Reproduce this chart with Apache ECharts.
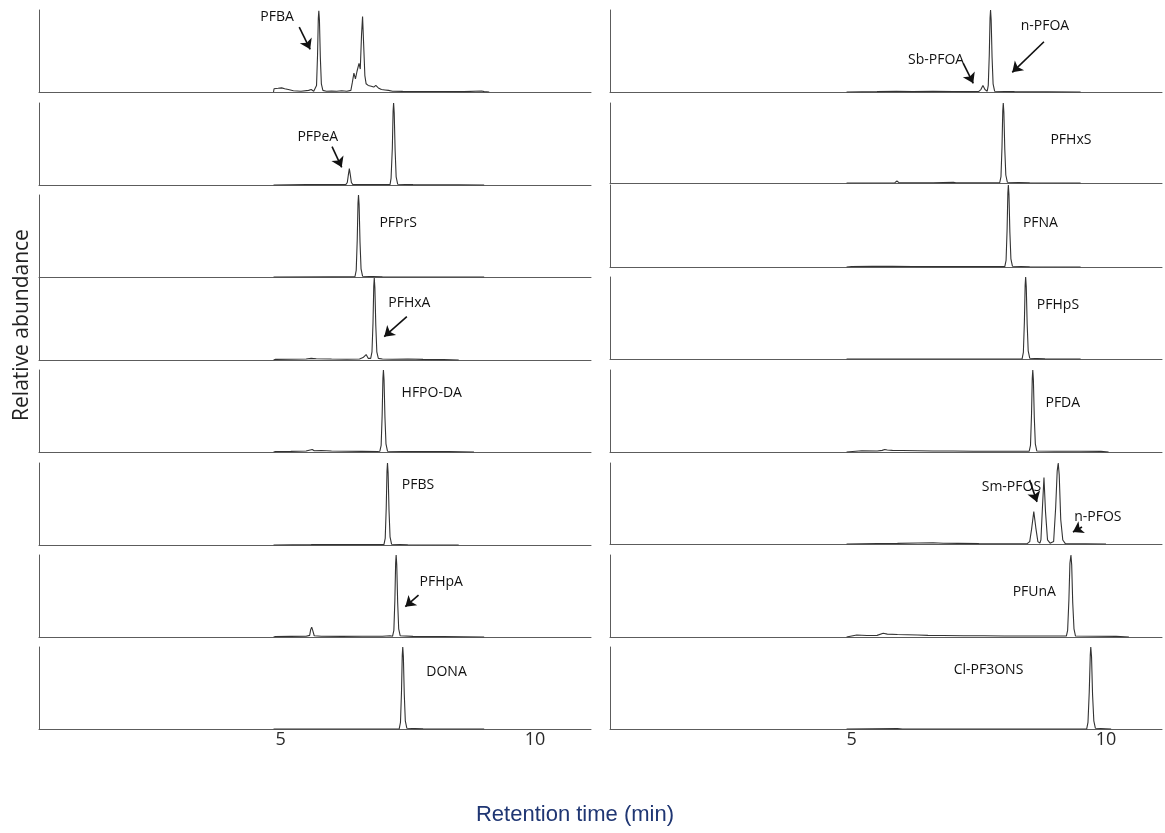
<!DOCTYPE html>
<html>
<head>
<meta charset="utf-8">
<title>PFAS chromatograms</title>
<script src="https://cdn.jsdelivr.net/npm/echarts@6/dist/echarts.min.js"></script>
<style>
  html, body { margin: 0; padding: 0; background: #fff; }
  #main { width: 1165px; height: 833px; }
</style>
</head>
<body>
<div id="main"></div>
<script>
// retention time (min) / relative abundance
var pfba = [[4.86,0],[4.87,0.04],[4.95,0.045],[5.02,0.05],[5.08,0.04],[5.15,0.03],[5.25,0.015],[5.4,0.01],[5.55,0.02],[5.6,0.03],[5.65,0.01],[5.68,0.005],
  [5.705,0.08],[5.725,0.45],[5.74,0.9],[5.75,0.99],[5.762,0.88],[5.78,0.42],[5.8,0.1],[5.83,0.02],
  [5.9,0.01],[6.0,0.012],[6.1,0.01],[6.2,0.015],[6.3,0.01],[6.38,0.02],
  [6.41,0.12],[6.44,0.23],[6.47,0.16],[6.5,0.25],[6.54,0.35],[6.565,0.28],[6.59,0.7],[6.61,0.92],[6.63,0.6],[6.655,0.2],
  [6.68,0.1],[6.72,0.08],[6.78,0.07],[6.83,0.06],[6.87,0.08],[6.92,0.05],[6.98,0.03],[7.05,0.025],[7.12,0.02],[7.2,0.01],
  [7.4,0.008],[7.8,0.006],[8.2,0.006],[8.6,0.005],[8.95,0.012],[9.0,0.005],[9.1,0]];
var pfpea = [[4.86,0],[5.5,0.004],[6.0,0.006],[6.28,0.005],[6.31,0.03],[6.33,0.12],[6.35,0.2],[6.37,0.12],[6.39,0.03],[6.42,0.005],
  [6.8,0.005],[7.15,0.004],[7.17,0.08],[7.195,0.45],[7.21,0.9],[7.22,1],[7.232,0.88],[7.25,0.42],[7.27,0.1],[7.3,0.01],[7.6,0.004],[8.5,0.003],[9.0,0]];
var pfprs = [[4.86,0],[6.0,0.002],[6.46,0.003],[6.485,0.08],[6.505,0.45],[6.52,0.9],[6.53,1],[6.542,0.88],[6.56,0.42],[6.58,0.1],[6.61,0.01],[7.0,0.002],[9.0,0]];
var pfhxa = [[4.86,0],[4.9,0.008],[5.2,0.01],[5.5,0.012],[5.6,0.02],[5.7,0.015],[6.0,0.012],[6.3,0.01],[6.55,0.012],[6.62,0.03],[6.68,0.066],[6.72,0.02],
  [6.77,0.02],[6.795,0.1],[6.815,0.45],[6.83,0.9],[6.84,1],[6.852,0.88],[6.87,0.42],[6.89,0.1],[6.92,0.02],
  [7.0,0.012],[7.2,0.01],[7.5,0.012],[7.8,0.008],[8.2,0.005],[8.5,0]];
var hfpoda = [[4.86,0],[4.9,0.006],[5.2,0.008],[5.5,0.012],[5.62,0.03],[5.66,0.015],[5.8,0.018],[6.0,0.012],[6.3,0.01],[6.6,0.008],[6.9,0.006],
  [6.95,0.01],[6.975,0.08],[6.995,0.45],[7.01,0.9],[7.02,1],[7.032,0.88],[7.05,0.42],[7.07,0.1],[7.1,0.01],
  [7.4,0.006],[7.8,0.005],[8.3,0.004],[8.8,0]];
var pfbs = [[4.86,0],[5.6,0.004],[5.8,0.006],[6.3,0.004],[7.03,0.004],[7.055,0.08],[7.075,0.45],[7.09,0.9],[7.1,1],[7.112,0.88],[7.13,0.42],[7.15,0.1],[7.18,0.01],[7.5,0.003],[8.5,0]];
var pfhpa = [[4.86,0],[4.9,0.006],[5.2,0.008],[5.5,0.01],[5.57,0.02],[5.59,0.09],[5.61,0.12],[5.63,0.08],[5.66,0.015],[5.8,0.01],[6.2,0.008],[6.6,0.01],[7.0,0.01],[7.15,0.015],
  [7.2,0.01],[7.225,0.08],[7.245,0.45],[7.26,0.9],[7.27,1],[7.282,0.88],[7.3,0.42],[7.32,0.1],[7.35,0.015],[7.6,0.008],[8.2,0.006],[9.0,0]];
var dona = [[4.86,0],[7.33,0.002],[7.355,0.08],[7.375,0.45],[7.39,0.9],[7.4,1],[7.412,0.88],[7.43,0.42],[7.45,0.1],[7.48,0.01],[7.8,0.002],[9.0,0]];

var pfoa = [[4.9,0],[5.5,0.004],[5.88,0.01],[6.2,0.005],[6.6,0.008],[7.0,0.006],[7.3,0.005],[7.5,0.008],[7.54,0.03],[7.58,0.08],[7.62,0.03],
  [7.665,0.01],[7.685,0.08],[7.705,0.45],[7.72,0.9],[7.73,1],[7.742,0.88],[7.76,0.42],[7.78,0.1],[7.81,0.01],[8.2,0.004],[9.5,0]];
var pfhxs = [[4.9,0],[5.85,0.004],[5.89,0.025],[5.93,0.004],[6.6,0.004],[7.0,0.008],[7.05,0.003],
  [7.91,0.003],[7.935,0.08],[7.955,0.45],[7.97,0.9],[7.98,1],[7.992,0.88],[8.01,0.42],[8.03,0.1],[8.06,0.01],[8.5,0.003],[9.5,0]];
var pfna = [[4.9,0],[5.0,0.006],[5.4,0.01],[5.8,0.008],[6.2,0.006],[6.6,0.005],[7.0,0.004],
  [8.01,0.004],[8.035,0.08],[8.055,0.45],[8.07,0.9],[8.08,1],[8.092,0.88],[8.11,0.42],[8.13,0.1],[8.16,0.01],[8.5,0.003],[9.5,0]];
var pfhps = [[4.9,0],[8.35,0.002],[8.375,0.08],[8.395,0.45],[8.41,0.9],[8.42,1],[8.432,0.88],[8.45,0.42],[8.47,0.1],[8.5,0.01],[8.8,0.002],[9.5,0]];
var pfda = [[4.9,0],[4.92,0.012],[5.2,0.015],[5.5,0.012],[5.6,0.02],[5.65,0.03],[5.7,0.025],[5.8,0.02],[6.0,0.018],[6.3,0.015],[6.6,0.012],[7.0,0.012],[7.4,0.01],[7.8,0.01],[8.2,0.01],
  [8.49,0.01],[8.515,0.08],[8.535,0.45],[8.55,0.9],[8.56,1],[8.572,0.88],[8.59,0.42],[8.61,0.1],[8.64,0.012],[9.0,0.01],[9.5,0.01],[9.9,0.008],[10.05,0]];
var pfos = [[4.9,0],[5.5,0.006],[5.9,0.008],[6.3,0.012],[6.6,0.015],[6.8,0.01],[7.1,0.008],[7.5,0.005],[8.0,0.004],[8.45,0.004],
  [8.5,0.03],[8.54,0.2],[8.58,0.4],[8.62,0.2],[8.66,0.03],[8.7,0.01],[8.72,0.05],[8.75,0.45],[8.78,0.82],[8.81,0.4],[8.85,0.05],[8.9,0.01],
  [8.97,0.03],[9.01,0.45],[9.04,0.9],[9.06,1],[9.08,0.85],[9.11,0.3],[9.15,0.05],[9.2,0.005],[9.6,0.003],[10.0,0]];
var pfuna = [[4.9,0],[4.92,0.02],[5.1,0.025],[5.3,0.018],[5.5,0.02],[5.62,0.045],[5.7,0.035],[5.9,0.03],[6.1,0.028],[6.3,0.025],[6.5,0.02],[6.8,0.018],[7.2,0.015],[7.6,0.015],
  [8.0,0.012],[8.5,0.012],[9.0,0.012],[9.22,0.012],[9.245,0.08],[9.27,0.45],[9.29,0.9],[9.31,1],[9.325,0.88],[9.345,0.42],[9.37,0.1],[9.4,0.012],[9.8,0.01],[10.2,0.008],[10.45,0]];
var clpf3ons = [[4.9,0],[5.9,0.004],[6.0,0],[9.62,0.002],[9.645,0.08],[9.67,0.45],[9.69,0.9],[9.7,1],[9.715,0.88],[9.735,0.42],[9.76,0.1],[9.79,0.01],[10.1,0]];

var leftTraces = [pfba, pfpea, pfprs, pfhxa, hfpoda, pfbs, pfhpa, dona];
var rightTraces = [pfoa, pfhxs, pfna, pfhps, pfda, pfos, pfuna, clpf3ons];
var tickLabels = [5, 10];

// peak names: [column, row, text, time, abundance]
var peakLabels = [
  [0,0,'PFBA',4.93,0.915],[0,1,'PFPeA',5.73,0.585],[0,2,'PFPrS',7.31,0.66],[0,3,'PFHxA',7.53,0.70],
  [0,4,'HFPO-DA',7.97,0.72],[0,5,'PFBS',7.70,0.73],[0,6,'PFHpA',8.155,0.675],[0,7,'DONA',8.26,0.70],
  [1,0,'n-PFOA',8.80,0.80],[1,0,'Sb-PFOA',6.66,0.39],[1,1,'PFHxS',9.31,0.54],[1,2,'PFNA',8.71,0.537],
  [1,3,'PFHpS',9.055,0.66],[1,4,'PFDA',9.15,0.60],[1,5,'Sm-PFOS',8.14,0.707],[1,5,'n-PFOS',9.84,0.337],
  [1,6,'PFUnA',8.59,0.552],[1,7,'Cl-PF3ONS',7.69,0.72]
];
// arrows: [column, row, t1, y1, t2, y2]
var arrows = [
  [0,0,5.365,0.79,5.58,0.52],[0,1,6.01,0.467,6.2,0.216],[0,3,7.48,0.53,7.035,0.284],[0,6,7.71,0.51,7.45,0.37],
  [1,0,8.78,0.613,8.157,0.24],[1,0,7.194,0.35,7.39,0.106],[1,5,8.497,0.79,8.643,0.52],[1,5,9.527,0.21,9.35,0.148]
];

// layout of the stacked panels
var tMin = 0.25, tMax = 11.1;
var colLeft = [39, 610];
var colWidth = 552;
var panelTops = [[10,103,195,278,370,463,555,647],[10,103,185,277,370,463,555,647]];
var panelHeights = [[82,82,82,82,82,82,82,82],[82,80,82,82,82,81,82,82]];

var grids = [], xAxes = [], yAxes = [], series = [];

function addPanel(col, row, data) {
  var i = grids.length;
  grids.push({ left: colLeft[col], width: colWidth, top: panelTops[col][row], height: panelHeights[col][row] });
  xAxes.push({
    gridIndex: i, type: 'value', min: tMin, max: tMax,
    axisLine: { show: true, lineStyle: { color: '#5c5c5c', width: 1 } },
    axisTick: { show: false },
    splitLine: { show: false },
    axisLabel: row == 7 ? {
      show: true, customValues: tickLabels, margin: 2,
      color: '#2a2a2a', fontSize: 18, fontFamily: 'Open Sans'
    } : { show: false }
  });
  yAxes.push({
    gridIndex: i, type: 'value', min: 0, max: 1,
    axisLine: { show: true, lineStyle: { color: '#5c5c5c', width: 1 } },
    axisTick: { show: false }, axisLabel: { show: false }, splitLine: { show: false }
  });
  var marks = [], lines = [];
  for (var k = 0; k < peakLabels.length; k++) {
    var p = peakLabels[k];
    if (p[0] == col && p[1] == row) marks.push({ name: p[2], coord: [p[3], p[4]] });
  }
  for (var k = 0; k < arrows.length; k++) {
    var a = arrows[k];
    if (a[0] == col && a[1] == row) lines.push([{ coord: [a[2], a[3]] }, { coord: [a[4], a[5]] }]);
  }
  series.push({
    type: 'line', xAxisIndex: i, yAxisIndex: i, data: data,
    symbol: 'none', silent: true,
    lineStyle: { color: '#333', width: 1.1 },
    markPoint: {
      symbol: 'circle', symbolSize: 0, silent: true,
      label: { show: true, position: 'inside', formatter: '{b}', color: '#111', fontSize: 14, fontFamily: 'Open Sans' },
      data: marks
    },
    markLine: {
      symbol: ['none', 'arrow'], symbolSize: 10, silent: true,
      label: { show: false },
      lineStyle: { color: '#111', width: 1.6, type: 'solid' },
      data: lines
    }
  });
}

for (var r = 0; r < 8; r++) addPanel(0, r, leftTraces[r]);
for (var r = 0; r < 8; r++) addPanel(1, r, rightTraces[r]);

var myChart = echarts.init(document.getElementById('main'));
myChart.setOption({
  animation: false,
  backgroundColor: '#fff',
  grid: grids,
  xAxis: xAxes,
  yAxis: yAxes,
  series: series,
  graphic: [
    {
      type: 'text', x: 22, y: 325, rotation: Math.PI / 2,
      style: { text: 'Relative abundance', fill: '#222', font: '21px "Open Sans"', align: 'center', verticalAlign: 'middle' }
    },
    {
      type: 'text', x: 575, y: 815,
      style: { text: 'Retention time (min)', fill: '#1f3673', font: '22px "Liberation Sans"', align: 'center', verticalAlign: 'middle' }
    }
  ]
});
</script>
</body>
</html>
